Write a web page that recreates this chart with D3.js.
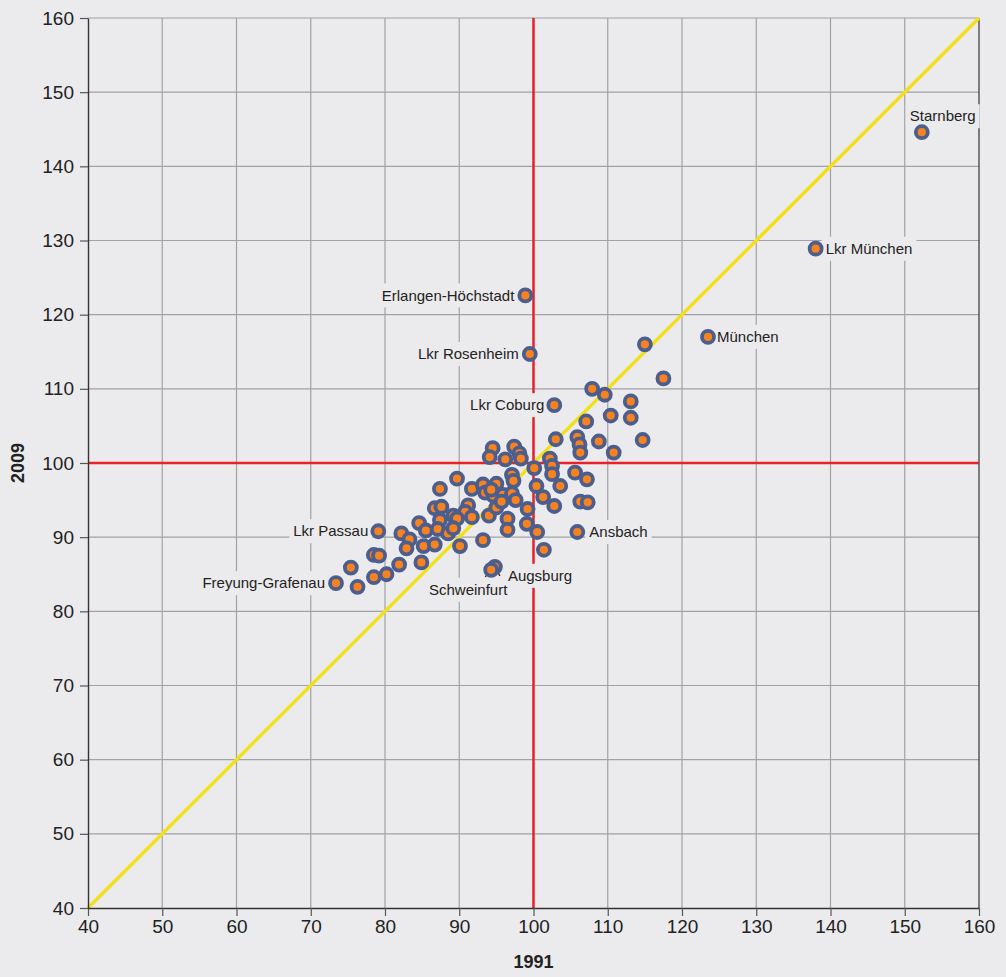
<!DOCTYPE html>
<html>
<head>
<meta charset="utf-8">
<script src="https://cdn.jsdelivr.net/npm/d3@7"></script>
<style>
    body { margin: 0; background: #ebebed; }
    text { font-family: "Liberation Sans", Arial, Helvetica, sans-serif; fill: #222; }
</style>
</head>
<body>
<svg id="chart" width="1006" height="977"></svg>
<script>
/**
 * Data: index per district, 1991 vs 2009 (Bavaria = 100).
 */
const tickValues = [40, 50, 60, 70, 80, 90, 100, 110, 120, 130, 140, 150, 160];

// Named districts
const labelNames = ['Starnberg', 'Lkr München', 'München', 'Erlangen-Höchstadt', 'Lkr Rosenheim',
    'Lkr Coburg', 'Ansbach', 'Lkr Passau', 'Freyung-Grafenau', 'Augsburg', 'Schweinfurt'];
const label1991 = [152.3, 138.0, 123.5, 98.9, 99.5, 102.8, 105.9, 79.1, 73.4, 94.8, 94.3];
const label2009 = [144.6, 128.9, 117.0, 122.6, 114.7, 107.8, 90.7, 90.8, 83.8, 86.0, 85.6];

// Remaining districts
const other1991 = [115.0, 117.5, 107.9, 109.6, 113.1, 107.1, 110.4, 113.1, 103.0, 105.9,
    106.2, 106.3, 108.8, 110.8, 114.7, 102.2, 102.5, 102.5, 105.6, 107.2,
    100.1, 103.6, 100.4, 101.3, 102.8, 106.3, 107.3, 101.4, 100.5, 99.1,
    99.2, 96.5, 96.5, 93.2, 90.1, 94.5, 94.1, 96.2, 97.4, 98.1,
    98.3, 97.1, 97.3, 91.7, 93.2, 95.0, 93.5, 94.6, 95.9, 97.1,
    97.6, 91.2, 90.8, 91.7, 94.0, 95.0, 95.7, 89.7, 87.4, 86.7,
    87.6, 87.4, 89.2, 89.7, 84.6, 85.5, 87.1, 88.5, 82.2, 83.3,
    82.9, 85.2, 86.7, 78.5, 79.2, 75.4, 76.3, 78.5, 80.2, 81.9,
    84.9, 89.2, 94.3];
const other2009 = [116.0, 111.4, 110.0, 109.2, 108.3, 105.6, 106.4, 106.1, 103.2, 103.5,
    102.5, 101.4, 102.9, 101.4, 103.1, 100.6, 99.6, 98.5, 98.7, 97.8,
    99.3, 96.9, 96.9, 95.4, 94.2, 94.8, 94.7, 88.3, 90.7, 91.8,
    93.8, 92.5, 91.0, 89.6, 88.8, 102.0, 100.8, 100.5, 102.2, 101.3,
    100.6, 98.4, 97.6, 96.5, 97.1, 97.2, 96.0, 95.6, 95.7, 95.9,
    95.0, 94.3, 93.4, 92.7, 92.9, 94.0, 94.8, 97.9, 96.5, 93.9,
    94.1, 92.3, 92.9, 92.5, 91.9, 90.9, 91.1, 90.5, 90.5, 89.7,
    88.5, 88.8, 89.0, 87.6, 87.5, 85.9, 83.3, 84.6, 85.0, 86.3,
    86.6, 91.2, 96.4];

/**
 * Visual configs.
 */
const visWidth = 1006, visHeight = 977,
    margin = { top: 18, right: 27, bottom: 69, left: 88 },
    bg = '#ebebed',
    gridColor = '#a2a2a4',
    axisColor = '#333',
    refColor = '#e8212b',
    diagColor = '#f2e019',
    dotFill = '#f7821f',
    dotStroke = '#4b5e8d';

// Label placement relative to its point
const labelPlacement = {
    'Starnberg': { dx: -12, dy: -16, anchor: 'start' },
    'Lkr München': { dx: 10, dy: 0, anchor: 'start' },
    'München': { dx: 9, dy: 0, anchor: 'start' },
    'Erlangen-Höchstadt': { dx: -11, dy: 0, anchor: 'end' },
    'Lkr Rosenheim': { dx: -11, dy: 0, anchor: 'end' },
    'Lkr Coburg': { dx: -10, dy: 0, anchor: 'end' },
    'Ansbach': { dx: 12, dy: 0, anchor: 'start' },
    'Lkr Passau': { dx: -10, dy: 0, anchor: 'end' },
    'Freyung-Grafenau': { dx: -11, dy: 0, anchor: 'end' },
    'Augsburg': { dx: 13, dy: 9, anchor: 'start', lead: [5, 9] },
    'Schweinfurt': { dx: -23, dy: 20, anchor: 'middle', lead: [-6, 7] }
};

const x = d3.scaleLinear().domain([40, 160]).range([margin.left, visWidth - margin.right]),
    y = d3.scaleLinear().domain([40, 160]).range([visHeight - margin.bottom, margin.top]);

const svg = d3.select('#chart');

svg.append('rect')
    .attr('width', visWidth).attr('height', visHeight)
    .attr('fill', bg);

/**
 * Grid.
 */
const grid = svg.append('g').attr('class', 'grid');
const inner = tickValues.filter(v => v > 40 && v < 160);
grid.selectAll('.vgrid').data(inner).enter().append('line')
    .attr('x1', d => x(d)).attr('x2', d => x(d))
    .attr('y1', y(40)).attr('y2', y(160))
    .attr('stroke', gridColor).attr('stroke-width', 1.2);
grid.selectAll('.hgrid').data(inner.concat([160])).enter().append('line')
    .attr('x1', x(40)).attr('x2', x(160))
    .attr('y1', d => y(d)).attr('y2', d => y(d))
    .attr('stroke', gridColor).attr('stroke-width', 1.2);
// right border
grid.append('line')
    .attr('x1', x(160)).attr('x2', x(160))
    .attr('y1', y(40)).attr('y2', y(160))
    .attr('stroke', axisColor).attr('stroke-width', 1.2);

/**
 * Reference lines.
 */
svg.append('line')
    .attr('x1', x(40)).attr('y1', y(40))
    .attr('x2', x(160)).attr('y2', y(160))
    .attr('stroke', diagColor).attr('stroke-width', 3.4);
svg.append('line')
    .attr('x1', x(100)).attr('x2', x(100))
    .attr('y1', y(40)).attr('y2', y(160))
    .attr('stroke', refColor).attr('stroke-width', 2.5);
svg.append('line')
    .attr('x1', x(40)).attr('x2', x(160))
    .attr('y1', y(100)).attr('y2', y(100))
    .attr('stroke', refColor).attr('stroke-width', 2.5);

/**
 * Axes.
 */
const xAxis = svg.append('g')
    .attr('transform', 'translate(0,' + y(40) + ')')
    .call(d3.axisBottom(x).tickValues(tickValues).tickSize(8).tickPadding(4).tickSizeOuter(0));
const yAxis = svg.append('g')
    .attr('transform', 'translate(' + x(40) + ',0)')
    .call(d3.axisLeft(y).tickValues(tickValues).tickSize(8).tickPadding(6).tickSizeOuter(0));
[xAxis, yAxis].forEach(a => {
    a.select('.domain').attr('stroke', axisColor).attr('stroke-width', 1.4);
    a.selectAll('.tick line').attr('stroke', '#555').attr('stroke-width', 1.2);
    a.selectAll('.tick text')
        .style('font-family', '"Liberation Sans", Arial, sans-serif')
        .style('font-size', '19px').attr('fill', '#222');
});

svg.append('text')
    .attr('x', x(100)).attr('y', 968)
    .attr('text-anchor', 'middle')
    .style('font-size', '18px').style('font-weight', 'bold')
    .text('1991');
svg.append('text')
    .attr('transform', 'translate(24,' + y(100) + ') rotate(-90)')
    .attr('text-anchor', 'middle')
    .style('font-size', '18px').style('font-weight', 'bold')
    .text('2009');

/**
 * Points & labels.
 */
const labelled = labelNames.map((n, i) => ({ name: n, v1991: label1991[i], v2009: label2009[i] }));
const others = other1991.map((v, i) => ({ name: '', v1991: v, v2009: other2009[i] }));
const allPoints = others.concat(labelled);

// Layers: label backgrounds, leaders, dots, label text
const rectLayer = svg.append('g').attr('class', 'label-bg'),
    leadLayer = svg.append('g').attr('class', 'leaders'),
    dotLayer = svg.append('g').attr('class', 'dots'),
    textLayer = svg.append('g').attr('class', 'labels');

labelled.forEach(d => {
    const p = labelPlacement[d.name],
        px = x(d.v1991), py = y(d.v2009);

    const rect = rectLayer.append('rect').attr('fill', bg);
    const t = textLayer.append('text')
        .attr('x', px + p.dx).attr('y', py + p.dy)
        .attr('dy', '0.35em')
        .attr('text-anchor', p.anchor)
        .style('font-size', '15px')
        .text(d.name);
    const b = t.node().getBBox();
    rect.attr('x', b.x - 4).attr('width', b.width + 8)
        .attr('y', py + p.dy - 12).attr('height', 24);

    if (p.lead) {
        leadLayer.append('line')
            .attr('x1', px).attr('y1', py)
            .attr('x2', px + p.lead[0]).attr('y2', py + p.lead[1])
            .attr('stroke', '#222').attr('stroke-width', 1.3);
    }
});

dotLayer.selectAll('circle').data(allPoints).enter().append('circle')
    .attr('cx', d => x(d.v1991))
    .attr('cy', d => y(d.v2009))
    .attr('r', 6)
    .attr('fill', dotFill)
    .attr('stroke', dotStroke)
    .attr('stroke-width', 3.8);
</script>
</body>
</html>
